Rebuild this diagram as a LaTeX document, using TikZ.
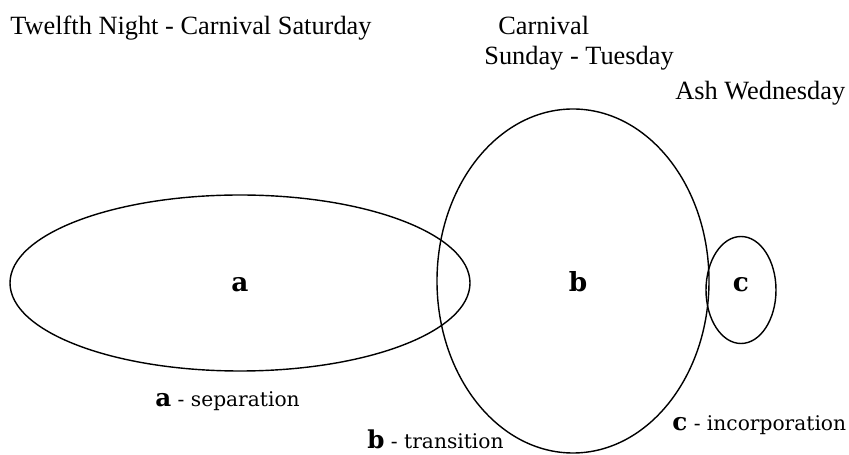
\documentclass[tikz,border=0pt]{standalone}
\usepackage{fontspec}
\setmainfont{Liberation Serif}
\newfontfamily\slabfont{DejaVu Serif}
\usetikzlibrary{shapes.geometric}

\begin{document}
\begin{tikzpicture}[x=0.02cm, y=-0.02cm,
    phase/.style={draw, ellipse, line width=0.8pt, inner sep=0pt},
    letter/.style={anchor=base, inner sep=0pt,
      font=\slabfont\bfseries\fontsize{15}{17}\selectfont},
    period/.style={anchor=base west, inner sep=0pt,
      font=\fontsize{15}{17}\selectfont},
    caption/.style={anchor=base west, inner sep=0pt,
      font=\slabfont\fontsize{11.5}{13}\selectfont}]
    \useasboundingbox (0, 0) rectangle (849, 455);
    % the three phases
    \node[phase, minimum width=460*0.02cm, minimum height=176*0.02cm] (aphase) at (240, 283) {};
    \node[phase, minimum width=272*0.02cm, minimum height=344*0.02cm] (bphase) at (573, 281) {};
    \node[phase, minimum width=70*0.02cm, minimum height=107*0.02cm] (cphase) at (741, 290) {};
    \node[letter] (alabel) at (240, 292) {a};
    \node[letter] (blabel) at (578, 292) {b};
    \node[letter] (clabel) at (741, 292) {c};
    % periods of the year
    \node[period] (twelfth) at (10, 35) {Twelfth Night - Carnival Saturday};
    \node[period] (carnival) at (498, 35) {Carnival};
    \node[period] (sunday) at (484, 65) {Sunday - Tuesday};
    \node[period] (ash) at (675, 100) {Ash Wednesday};
    % captions
    \node[caption] (sepcap) at (155, 407) {{\fontsize{14}{16}\selectfont\bfseries a} - separation};
    \node[caption] (trancap) at (367, 449) {{\fontsize{14}{16}\selectfont\bfseries b} - transition};
    \node[caption] (inccap) at (672, 431) {{\fontsize{14}{16}\selectfont\bfseries c} - incorporation};
\end{tikzpicture}
\end{document}
